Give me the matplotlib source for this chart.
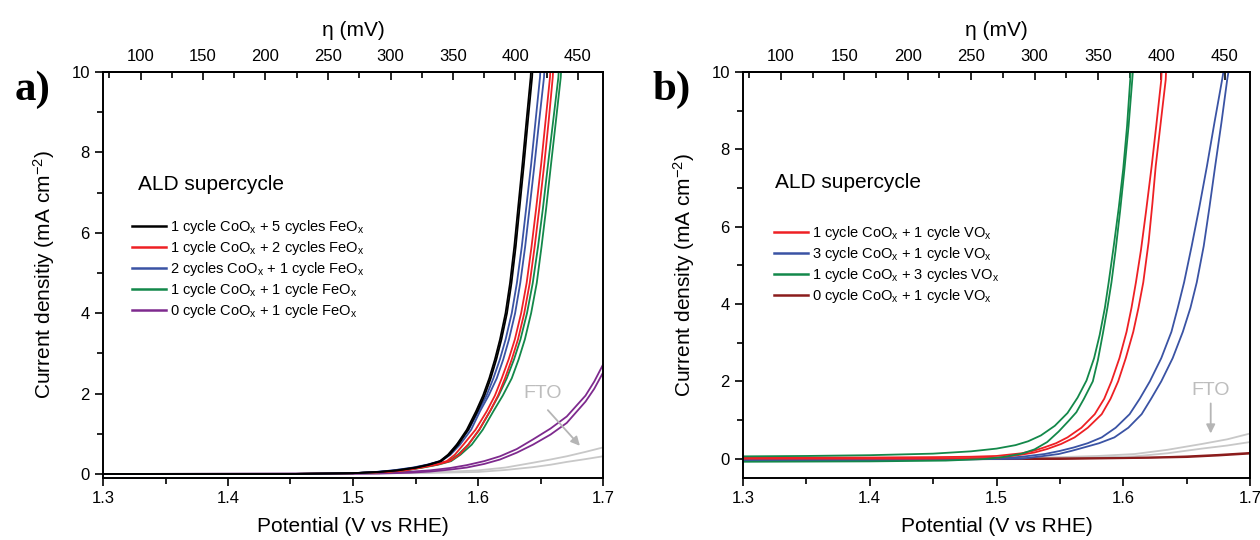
import matplotlib
matplotlib.use("Agg")
import matplotlib.pyplot as plt
from matplotlib.lines import Line2D
from matplotlib.ticker import MultipleLocator, FormatStrFormatter

plt.rcParams['font.family'] = ['Liberation Sans', 'DejaVu Sans']
plt.rcParams['mathtext.default'] = 'regular'

E0 = 1.23  # V vs RHE for overpotential axis

# ---------------- Panel a data (Co/Fe) ----------------
# shared current grid (mA cm-2) for the steep curves, potentials read per curve
a_j = [0.00, 0.00, 0.02, 0.05, 0.09, 0.16, 0.23, 0.32, 0.48, 0.73, 1.10, 1.56, 1.95, 2.38,
       2.85, 3.35, 4.00, 4.75, 5.65, 6.60, 7.70, 8.80, 9.87, 10.2]
a_black1_v = [1.30, 1.45, 1.50, 1.520, 1.535, 1.550, 1.560, 1.5696, 1.5760, 1.5830, 1.5910, 1.5984,
              1.6040, 1.6090, 1.6135, 1.6176, 1.6220, 1.6256, 1.6290, 1.6320, 1.6355, 1.6388, 1.6421, 1.6427]
a_black2_v = [1.30, 1.45, 1.50, 1.521, 1.536, 1.551, 1.561, 1.5706, 1.5772, 1.5842, 1.5922, 1.5996,
              1.6052, 1.6102, 1.6147, 1.6188, 1.6232, 1.6268, 1.6302, 1.6332, 1.6367, 1.6400, 1.6433, 1.6439]
a_blue1_v = [1.30, 1.45, 1.50, 1.518, 1.532, 1.548, 1.559, 1.5696, 1.5765, 1.5830, 1.5925, 1.6003,
             1.6068, 1.6123, 1.6175, 1.6221, 1.6270, 1.6311, 1.6350, 1.6385, 1.6425, 1.6461, 1.6496, 1.6502]
a_blue2_v = [1.30, 1.45, 1.50, 1.519, 1.533, 1.549, 1.560, 1.5705, 1.5780, 1.5856, 1.5945, 1.6016,
             1.6085, 1.6150, 1.6202, 1.6248, 1.6297, 1.6338, 1.6377, 1.6412, 1.6452, 1.6490, 1.6528, 1.6534]
a_red1_v = [1.30, 1.45, 1.50, 1.525, 1.540, 1.553, 1.5645, 1.5750, 1.5815, 1.5883, 1.5980, 1.6070,
            1.6135, 1.6190, 1.6245, 1.6295, 1.6345, 1.6389, 1.6428, 1.6465, 1.6505, 1.6541, 1.6576, 1.6582]
a_red2_v = [1.30, 1.45, 1.50, 1.527, 1.542, 1.555, 1.567, 1.5776, 1.5850, 1.5923, 1.6010, 1.6096,
            1.6160, 1.6216, 1.6270, 1.6320, 1.6370, 1.6414, 1.6453, 1.6490, 1.6530, 1.6566, 1.6598, 1.6604]
a_green1_v = [1.30, 1.45, 1.50, 1.524, 1.540, 1.554, 1.566, 1.5765, 1.5840, 1.5922, 1.6010, 1.6096,
              1.6165, 1.6230, 1.6288, 1.6340, 1.6392, 1.6438, 1.6480, 1.6519, 1.6560, 1.6602, 1.6643, 1.6649]
a_green2_v = [1.30, 1.45, 1.50, 1.526, 1.542, 1.556, 1.568, 1.5785, 1.5860, 1.5950, 1.6038, 1.6123,
              1.6198, 1.6270, 1.6325, 1.6375, 1.6425, 1.6470, 1.6508, 1.6545, 1.6584, 1.6624, 1.6662, 1.6668]

a_purple1_v = [1.30, 1.50, 1.53, 1.5616, 1.578, 1.591, 1.605, 1.6176, 1.631, 1.644, 1.658, 1.671, 1.686, 1.693, 1.700]
a_purple1_j = [0.00, 0.01, 0.025, 0.09, 0.15, 0.22, 0.32, 0.44, 0.62, 0.86, 1.13, 1.43, 1.95, 2.30, 2.72]
a_purple2_v = [1.30, 1.52, 1.545, 1.5616, 1.578, 1.591, 1.605, 1.6176, 1.631, 1.644, 1.658, 1.671, 1.686, 1.693, 1.700]
a_purple2_j = [0.00, 0.01, 0.03, 0.06, 0.11, 0.16, 0.25, 0.36, 0.53, 0.73, 0.98, 1.27, 1.80, 2.12, 2.52]

a_fto1_v = [1.30, 1.50, 1.55, 1.58, 1.60, 1.622, 1.644, 1.658, 1.671, 1.686, 1.700]
a_fto1_j = [0.00, 0.01, 0.03, 0.06, 0.09, 0.16, 0.28, 0.36, 0.44, 0.55, 0.66]
a_fto2_v = [1.30, 1.55, 1.60, 1.622, 1.644, 1.658, 1.671, 1.686, 1.700]
a_fto2_j = [0.00, 0.02, 0.05, 0.10, 0.17, 0.23, 0.30, 0.37, 0.44]

a_labels = ["1 cycle CoO$_x$ + 5 cycles FeO$_x$",
            "1 cycle CoO$_x$ + 2 cycles FeO$_x$",
            "2 cycles CoO$_x$ + 1 cycle FeO$_x$",
            "1 cycle CoO$_x$ + 1 cycle FeO$_x$",
            "0 cycle CoO$_x$ + 1 cycle FeO$_x$"]

# ---------------- Panel b data (Co/V) ----------------
b_green1_v = [1.30, 1.35, 1.40, 1.45, 1.48, 1.50, 1.515, 1.525, 1.535, 1.546, 1.556, 1.564, 1.571,
              1.577, 1.5814, 1.5855, 1.5885, 1.5925, 1.5965, 1.6000, 1.6030, 1.6055, 1.6060]
b_green1_j = [0.06, 0.07, 0.09, 0.13, 0.19, 0.26, 0.35, 0.45, 0.60, 0.85, 1.18, 1.58, 2.02,
              2.60, 3.20, 3.90, 4.56, 5.50, 6.50, 7.50, 8.60, 9.80, 10.2]
b_green2_v = [1.30, 1.40, 1.46, 1.49, 1.505, 1.52, 1.530, 1.540, 1.549, 1.557, 1.563, 1.569, 1.576,
              1.580, 1.584, 1.5875, 1.5907, 1.594, 1.5975, 1.6010, 1.6042, 1.6071, 1.6080]
b_green2_j = [-0.08, -0.07, -0.05, -0.01, 0.04, 0.13, 0.24, 0.43, 0.70, 0.98, 1.20, 1.55, 2.00,
              2.55, 3.25, 3.90, 4.56, 5.40, 6.40, 7.50, 8.60, 9.80, 10.2]

b_red1_v = [1.30, 1.40, 1.45, 1.48, 1.50, 1.52, 1.530, 1.5376, 1.547, 1.556, 1.567, 1.5775, 1.585,
            1.5907, 1.597, 1.6026, 1.6065, 1.610, 1.614, 1.618, 1.6224, 1.626, 1.630, 1.6305]
b_red1_j = [0.03, 0.03, 0.04, 0.05, 0.07, 0.14, 0.21, 0.29, 0.40, 0.55, 0.80, 1.15, 1.55,
            2.00, 2.60, 3.28, 3.90, 4.56, 5.40, 6.40, 7.56, 8.60, 9.80, 10.2]
b_red2_v = [1.30, 1.40, 1.45, 1.50, 1.519, 1.530, 1.540, 1.551, 1.5616, 1.572, 1.583, 1.590, 1.596,
            1.602, 1.6079, 1.612, 1.6158, 1.620, 1.623, 1.6256, 1.6296, 1.6335, 1.6340]
b_red2_j = [0.00, 0.00, 0.00, 0.02, 0.10, 0.16, 0.25, 0.38, 0.55, 0.80, 1.15, 1.55, 2.00,
            2.60, 3.28, 3.90, 4.56, 5.60, 6.60, 7.56, 8.70, 9.80, 10.2]

b_blue_j = [-0.02, -0.02, -0.01, 0.00, 0.05, 0.12, 0.20, 0.29, 0.40, 0.55, 0.80, 1.15, 1.55,
            2.00, 2.60, 3.28, 3.90, 4.56, 5.50, 6.50, 7.56, 8.70, 9.80, 10.2]
b_blue1_v = [1.30, 1.40, 1.45, 1.50, 1.52, 1.538, 1.550, 1.561, 1.572, 1.583, 1.594, 1.605, 1.613,
             1.621, 1.630, 1.638, 1.643, 1.648, 1.654, 1.660, 1.666, 1.672, 1.678, 1.680]
b_blue2_v = [1.30, 1.40, 1.45, 1.52, 1.535, 1.549, 1.559, 1.569, 1.581, 1.593, 1.604, 1.6145, 1.622,
             1.630, 1.639, 1.647, 1.653, 1.658, 1.6635, 1.668, 1.6725, 1.6775, 1.682, 1.684]
b_blue2_j = [-0.04, -0.04, -0.03, 0.00, 0.06, 0.12, 0.20, 0.29, 0.40, 0.55, 0.80, 1.15, 1.55,
             2.00, 2.60, 3.28, 3.90, 4.56, 5.50, 6.50, 7.56, 8.70, 9.80, 10.2]

b_dred1_v = [1.30, 1.50, 1.60, 1.63, 1.65, 1.675, 1.70]
b_dred1_j = [0.00, 0.00, 0.02, 0.04, 0.06, 0.10, 0.15]
b_dred2_v = [1.30, 1.55, 1.62, 1.65, 1.675, 1.70]
b_dred2_j = [-0.02, -0.01, 0.02, 0.04, 0.08, 0.13]

b_fto1_v = [1.30, 1.45, 1.50, 1.55, 1.58, 1.609, 1.635, 1.662, 1.682, 1.700]
b_fto1_j = [0.00, 0.00, 0.01, 0.04, 0.07, 0.12, 0.23, 0.38, 0.50, 0.65]
b_fto2_v = [1.30, 1.50, 1.56, 1.609, 1.635, 1.662, 1.682, 1.700]
b_fto2_j = [-0.01, 0.00, 0.02, 0.06, 0.14, 0.26, 0.34, 0.43]

b_labels = ["1 cycle CoO$_x$ + 1 cycle VO$_x$",
            "3 cycle CoO$_x$ + 1 cycle VO$_x$",
            "1 cycle CoO$_x$ + 3 cycles VO$_x$",
            "0 cycle CoO$_x$ + 1 cycle VO$_x$"]

C_BLACK = '#000000'
C_RED = '#ee2024'
C_BLUE = '#3a53a4'
C_GREEN = '#13884a'
C_PURPLE = '#7e2a8e'
C_DRED = '#8b1c1c'
C_GRAY = '#c8c8c8'
C_GRAYTXT = '#bdbdbd'

LW = 1.3

fig = plt.figure(figsize=(12.6, 5.4), dpi=100)
axa = fig.add_axes([103/1260, 1-478/540, 500/1260, 406/540])
axb = fig.add_axes([743/1260, 1-478/540, 507/1260, 406/540])


def style(ax, ylabel, ylo):
    ax.set_xlim(1.3, 1.7)
    ax.set_ylim(ylo, 10)
    ax.xaxis.set_major_locator(MultipleLocator(0.1))
    ax.xaxis.set_minor_locator(MultipleLocator(0.05))
    ax.yaxis.set_major_locator(MultipleLocator(2))
    ax.yaxis.set_minor_locator(MultipleLocator(1))
    ax.tick_params(which='both', direction='out', top=False, right=False, labelsize=12)
    ax.tick_params(which='major', length=6, width=1.2)
    ax.tick_params(which='minor', length=4, width=1.2)
    ax.xaxis.set_major_formatter(FormatStrFormatter('%.1f'))
    ax.yaxis.set_major_formatter(FormatStrFormatter('%d'))
    for s in ax.spines.values():
        s.set_linewidth(1.4)
    ax.set_xlabel('Potential (V vs RHE)', fontsize=15, labelpad=8)
    ax.set_ylabel(ylabel, fontsize=15, labelpad=10)
    sec = ax.secondary_xaxis('top', functions=(lambda v: (v - E0) * 1000, lambda e: e / 1000 + E0))
    sec.set_xticks(list(range(100, 451, 50)))
    sec.xaxis.set_minor_locator(MultipleLocator(25))
    sec.tick_params(which='both', direction='in', labelsize=12, width=1.2, pad=6)
    sec.tick_params(which='major', length=6)
    sec.tick_params(which='minor', length=4)
    sec.set_xlabel('η (mV)', fontsize=15, labelpad=9)
    sec.spines['top'].set_linewidth(1.4)


# Panel a
axa.plot(a_fto1_v, a_fto1_j, color=C_GRAY, lw=LW)
axa.plot(a_fto2_v, a_fto2_j, color=C_GRAY, lw=LW)
axa.plot(a_purple1_v, a_purple1_j, color=C_PURPLE, lw=LW)
axa.plot(a_purple2_v, a_purple2_j, color=C_PURPLE, lw=LW)
axa.plot(a_green1_v, a_j, color=C_GREEN, lw=LW)
axa.plot(a_green2_v, a_j, color=C_GREEN, lw=LW)
axa.plot(a_red1_v, a_j, color=C_RED, lw=LW)
axa.plot(a_red2_v, a_j, color=C_RED, lw=LW)
axa.plot(a_blue1_v, a_j, color=C_BLUE, lw=LW)
axa.plot(a_blue2_v, a_j, color=C_BLUE, lw=LW)
axa.plot(a_black1_v, a_j, color=C_BLACK, lw=LW)
axa.plot(a_black2_v, a_j, color=C_BLACK, lw=LW)
style(axa, 'Current densitiy (mA cm$^{-2}$)', -0.1)

axa.text(1.652, 1.99, 'FTO', color=C_GRAYTXT, fontsize=14, ha='center', va='center')
axa.annotate('', xy=(1.683, 0.65), xytext=(1.6544, 1.64),
             arrowprops=dict(arrowstyle='-|>', color='#b5b5b5', lw=1.3, mutation_scale=13))

axa.text(0.07, 0.722, 'ALD supercycle', transform=axa.transAxes, fontsize=15, va='center', ha='left')
a_handles = [Line2D([], [], color=c, lw=1.8) for c in (C_BLACK, C_RED, C_BLUE, C_GREEN, C_PURPLE)]
axa.legend(a_handles, a_labels, loc='upper left', bbox_to_anchor=(0.058, 0.64), frameon=False,
           fontsize=10.5, handlelength=2.3, handletextpad=0.3, labelspacing=0.2,
           borderpad=0, borderaxespad=0)

# Panel b
axb.plot(b_fto1_v, b_fto1_j, color=C_GRAY, lw=LW)
axb.plot(b_fto2_v, b_fto2_j, color=C_GRAY, lw=LW)
axb.plot(b_dred1_v, b_dred1_j, color=C_DRED, lw=LW)
axb.plot(b_dred2_v, b_dred2_j, color=C_DRED, lw=LW)
axb.plot(b_blue1_v, b_blue_j, color=C_BLUE, lw=LW)
axb.plot(b_blue2_v, b_blue2_j, color=C_BLUE, lw=LW)
axb.plot(b_red1_v, b_red1_j, color=C_RED, lw=LW)
axb.plot(b_red2_v, b_red2_j, color=C_RED, lw=LW)
axb.plot(b_green1_v, b_green1_j, color=C_GREEN, lw=LW)
axb.plot(b_green2_v, b_green2_j, color=C_GREEN, lw=LW)
style(axb, 'Current density (mA cm$^{-2}$)', -0.5)

axb.text(1.669, 1.77, 'FTO', color=C_GRAYTXT, fontsize=14, ha='center', va='center')
axb.annotate('', xy=(1.669, 0.58), xytext=(1.669, 1.5),
             arrowprops=dict(arrowstyle='-|>', color='#b5b5b5', lw=1.3, mutation_scale=13))

axb.text(0.063, 0.729, 'ALD supercycle', transform=axb.transAxes, fontsize=15, va='center', ha='left')
b_handles = [Line2D([], [], color=c, lw=1.8) for c in (C_RED, C_BLUE, C_GREEN, C_DRED)]
axb.legend(b_handles, b_labels, loc='upper left', bbox_to_anchor=(0.062, 0.625), frameon=False,
           fontsize=10.5, handlelength=2.3, handletextpad=0.3, labelspacing=0.2,
           borderpad=0, borderaxespad=0)

# Panel letters
fig.text(33/1260, 1-90/540, 'a)', fontsize=31, fontweight='bold', family='Liberation Serif',
         ha='center', va='center')
fig.text(672/1260, 1-90/540, 'b)', fontsize=31, fontweight='bold', family='Liberation Serif',
         ha='center', va='center')

fig.savefig('out.png', dpi=100)
